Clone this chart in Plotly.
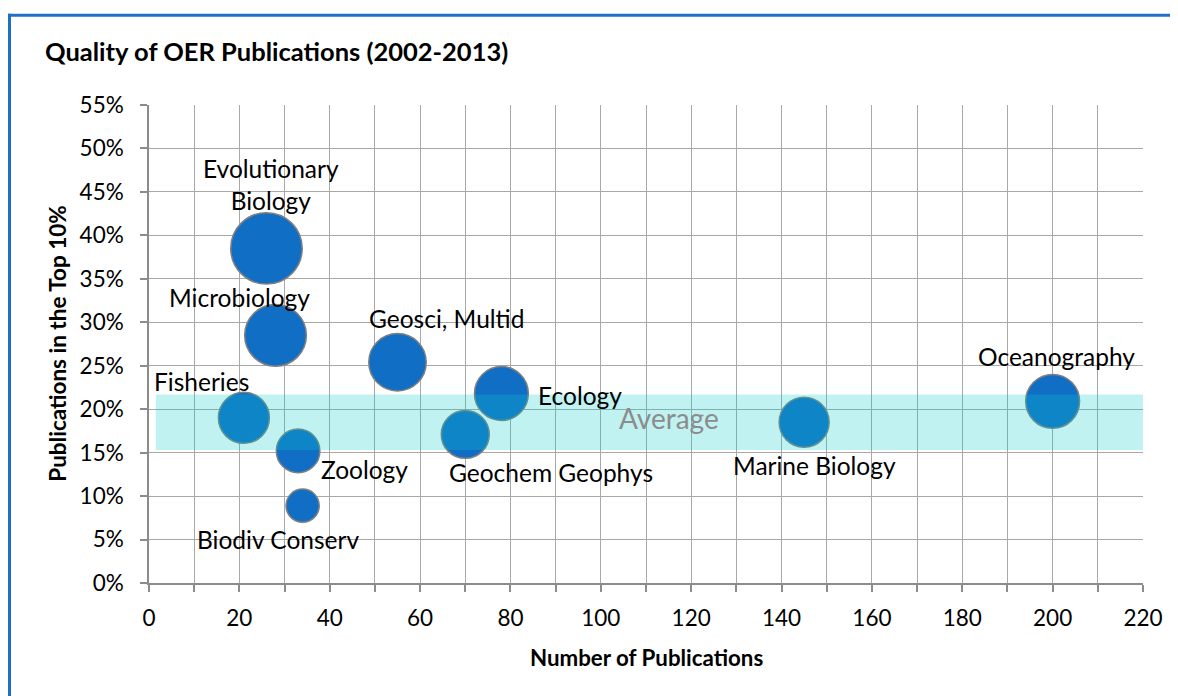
import plotly.graph_objects as go

# ---- data ----
fields = ["Evolutionary<br>Biology", "Microbiology", "Geosci, Multid", "Ecology",
          "Geochem Geophys", "Marine Biology", "Oceanography", "Fisheries",
          "Zoology", "Biodiv Conserv"]
num_publications = [26, 28, 55, 78, 70, 145, 200, 21, 33, 34]
pct_top10 = [0.385, 0.285, 0.254, 0.218, 0.171, 0.185, 0.209, 0.190, 0.152, 0.089]
bubble_value = [51, 38, 33, 29, 23, 25, 29, 26, 19, 11]

average_low = 0.153
average_high = 0.217
average_x_start = 1.5
average_label = "Average"
average_label_x = 115
average_label_y = 0.19

x_ticks = list(range(0, 221, 10))
x_tick_text = [str(v) if v % 20 == 0 else "" for v in x_ticks]

title_text = "Quality of OER Publications (2002-2013)"
x_title = "Number of Publications"
y_title = "Publications in the Top 10%"

# ---- styles ----
FONT = "Lato"
BUBBLE = "#106EC5"
GRID = "#A8A8A8"
AXIS = "#8C8C8C"
W, H = 1170, 688          # page body has an 8px margin
ML, MR, MT, MB = 141, 35, 96.5, 113
PW, PH = W - ML - MR, H - MT - MB
# label offsets (pixels) relative to each bubble centre: (xshift, yshift, xanchor)
label_offsets = [(5, 64, "center"), (-36, 38, "center"), (49, 44, "center"),
                 (35, -2, "left"), (86, -38, "center"), (10, -43, "center"),
                 (4, 45, "center"), (-42, 36, "center"), (66, -19, "center"),
                 (-25, -34, "center")]

fig = go.Figure()
fig.add_trace(go.Scatter(
    x=num_publications, y=pct_top10, mode="markers",
    marker=dict(size=bubble_value, sizemode="area", sizeref=0.02,
                color=BUBBLE, opacity=1,
                line=dict(color="#7F7F7F", width=1.5)),
    hoverinfo="text", text=[f.replace("<br>", " ") for f in fields],
    showlegend=False,
))

annotations = []
for f, x, y, (dx, dy, xa) in zip(fields, num_publications, pct_top10, label_offsets):
    annotations.append(dict(x=x, y=y, xref="x", yref="y", text=f, showarrow=False,
                            xshift=dx, yshift=dy, xanchor=xa, yanchor="middle",
                            font=dict(family=FONT, size=24.5, color="black")))
annotations.append(dict(x=average_label_x, y=average_label_y, xref="x", yref="y",
                        text=average_label, showarrow=False,
                        font=dict(family=FONT, size=28, color="#8C8C8C")))
annotations.append(dict(x=0.5, y=-(658 - 583) / PH, xref="paper", yref="paper",
                        text=f"<b>{x_title}</b>", showarrow=False, yanchor="middle",
                        font=dict(family=FONT, size=22.3, color="black")))
annotations.append(dict(x=-(149 - 58) / PW, y=1 - (343.5 - 104.5) / PH, xref="paper", yref="paper",
                        text=f"<b>{y_title}</b>", showarrow=False, textangle=-90,
                        xanchor="center", yanchor="middle",
                        font=dict(family=FONT, size=22.5, color="black")))

shapes = [
    dict(type="rect", xref="x", yref="y", x0=average_x_start, x1=220,
         y0=average_low, y1=average_high, fillcolor="rgba(5,205,205,0.25)",
         line=dict(width=0), layer="above"),
    # blue frame (top and left)
    dict(type="line", xref="paper", yref="paper", x0=-141 / PW, x1=1.1,
         y0=(583 - 14.7) / PH, y1=(583 - 14.7) / PH,
         line=dict(color="#1F6FC5", width=3)),
    dict(type="line", xref="paper", yref="paper", x0=-139.5 / PW, x1=-139.5 / PW,
         y0=(583 - 13.2) / PH, y1=-0.3,
         line=dict(color="#1F6FC5", width=3)),
]

fig.update_layout(
    width=W, height=H,
    margin=dict(l=ML, r=MR, t=MT, b=MB, autoexpand=False),
    paper_bgcolor="white", plot_bgcolor="white",
    font=dict(family=FONT, size=22.5, color="black"),
    title=dict(text=f"<b>{title_text}</b>", x=37 / W, xanchor="left",
               xref="container", yref="container", y=1 - 44 / H, yanchor="middle",
               font=dict(family=FONT, size=25.5, color="black")),
    xaxis=dict(range=[0, 220], tickvals=x_ticks, ticktext=x_tick_text,
               showgrid=True, gridcolor=GRID, gridwidth=1,
               showline=True, linecolor=AXIS, linewidth=1.5,
               ticks="outside", ticklen=7, tickcolor=AXIS, tickwidth=1.5,
               zeroline=False, fixedrange=True, ticklabelstandoff=7),
    yaxis=dict(range=[0, 0.55], dtick=0.05, tickformat=".0%",
               showgrid=True, gridcolor=GRID, gridwidth=1,
               showline=True, linecolor=AXIS, linewidth=1.5,
               ticks="outside", ticklen=7, tickcolor=AXIS, tickwidth=1.5,
               zeroline=False, fixedrange=True, ticklabelstandoff=12),
    annotations=annotations, shapes=shapes,
)

fig.write_html("out.html")
